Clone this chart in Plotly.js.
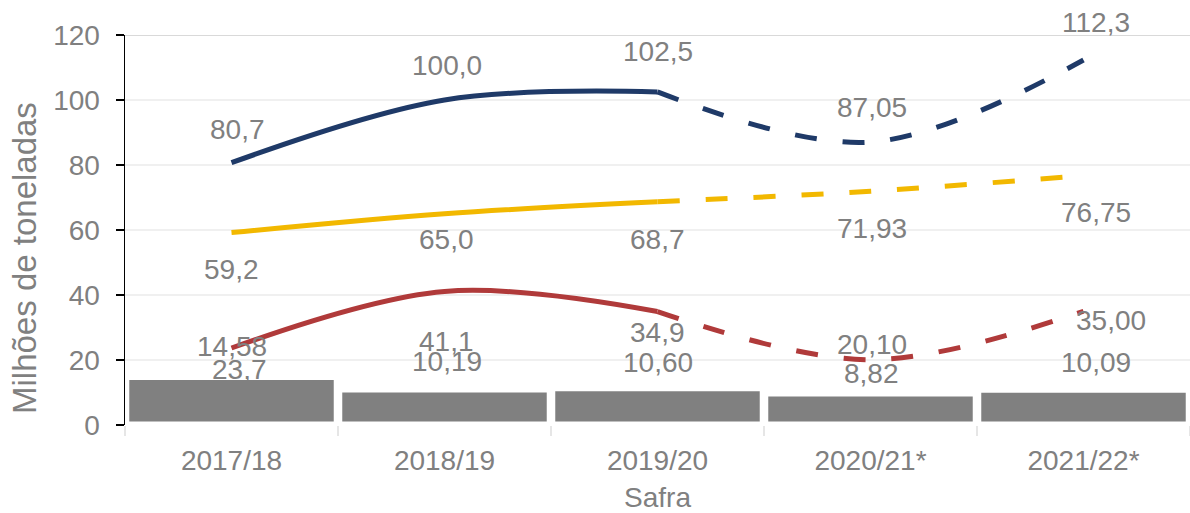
<!DOCTYPE html>
<html>
<head>
<meta charset="utf-8">
<script src="https://cdn.plot.ly/plotly-3.0.1.min.js"></script>
<style>html,body{margin:0;padding:0;background:#fff;}#chart{width:1190px;height:513px;}</style>
</head>
<body>
<div id="chart"></div>
<script>
// ---- Data ----
const safras = ["2017/18", "2018/19", "2019/20", "2020/21*", "2021/22*"];
const serieAzul = [80.7, 100.0, 102.5, 87.05, 112.3];
const serieAmarela = [59.2, 65.0, 68.7, 71.93, 76.75];
const serieVermelha = [23.7, 41.1, 34.9, 20.10, 35.00];
const barras = [14.58, 10.19, 10.60, 8.82, 10.09];
const rotAzul = ["80,7", "100,0", "102,5", "87,05", "112,3"];
const rotAmarela = ["59,2", "65,0", "68,7", "71,93", "76,75"];
const rotVermelha = ["23,7", "41,1", "34,9", "20,10", "35,00"];
const rotBarras = ["14,58", "10,19", "10,60", "8,82", "10,09"];
const tituloY = "Milhões de toneladas";
const tituloX = "Safra";

// ---- Styles ----
const cAzul = "#1f3a68", cAmarela = "#f2b800", cVermelha = "#b03a3a", cBarra = "#808080";
const txt = "#808080";
const FONT = "Liberation Sans, Arial, sans-serif";
const FS = 28;
const dashPat = "22px,26px";

function lineTraces(vals, color) {
  return [
    {x: safras.slice(0, 3), y: vals.slice(0, 3), type: "scatter", mode: "lines",
     line: {color: color, width: 5, shape: "spline", smoothing: 1}, hoverinfo: "skip"},
    {x: safras.slice(2), y: vals.slice(2), type: "scatter", mode: "lines",
     line: {color: color, width: 5, shape: "spline", smoothing: 1, dash: dashPat}, hoverinfo: "skip"}
  ];
}

const traces = [
  {x: safras, y: barras, type: "bar", yaxis: "y2", marker: {color: cBarra, line: {width: 0}}, hoverinfo: "skip"},
  ...lineTraces(serieAmarela, cAmarela),
  ...lineTraces(serieVermelha, cVermelha),
  ...lineTraces(serieAzul, cAzul)
];

// label offsets (pixels) : [xshift, yshift]
const offAzul = [[6,33],[2,35],[0,40],[1,35],[12,38]];
const offAmarela = [[0,-37],[2,-26],[0,-38],[1,-37],[12,-37]];
const offVermelha = [[8,-22],[2,-50],[0,-21],[1,15],[27,-9]];
const offBarras = [[0,31],[2,30],[0,28],[1,23],[12,30]];

const annotations = [];
function addLabels(vals, labels, offs) {
  vals.forEach((v, i) => {
    annotations.push({x: safras[i], y: v, xref: "x", yref: "y", text: labels[i], showarrow: false,
      xshift: offs[i][0], yshift: offs[i][1], font: {family: FONT, size: FS, color: txt}});
  });
}
addLabels(serieAzul, rotAzul, offAzul);
addLabels(serieAmarela, rotAmarela, offAmarela);
addLabels(serieVermelha, rotVermelha, offVermelha);
addLabels(barras, rotBarras, offBarras);

// y-axis title as rotated annotation (placed like the reference)
annotations.push({text: tituloY, xref: "paper", yref: "paper", x: 0, y: 0.5, xanchor: "center", yanchor: "middle",
  xshift: -101, yshift: -28, textangle: -90, showarrow: false, font: {family: FONT, size: 33, color: txt}});

const layout = {
  width: 1190, height: 513,
  margin: {l: 125, r: 0, t: 35, b: 88, pad: 0},
  paper_bgcolor: "#fff", plot_bgcolor: "#fff",
  showlegend: false,
  bargap: 0.04,
  font: {family: FONT, size: FS, color: txt},
  xaxis: {
    type: "category", range: [-0.5, 4.5], showgrid: false, zeroline: false, showline: false,
    ticks: "outside", tickson: "boundaries", ticklen: 10, tickcolor: "#e6e6e6", tickwidth: 2,
    tickfont: {family: FONT, size: FS, color: txt}, ticklabelstandoff: 16,
    title: {text: tituloX, font: {family: FONT, size: FS, color: txt}, standoff: 12}
  },
  yaxis: {
    range: [0, 120], tickvals: [0, 20, 40, 60, 80, 100, 120], showgrid: true, gridcolor: "#f0f0f0", gridwidth: 2,
    zeroline: false, showline: true, linecolor: "#000", linewidth: 1.5,
    ticks: "outside", ticklen: 8, tickcolor: "#000", tickwidth: 1.5,
    tickfont: {family: FONT, size: FS, color: txt}, ticklabelstandoff: 10
  },
  yaxis2: {overlaying: "y", range: [-1.2, 135.6], visible: false, showgrid: false, zeroline: false},
  shapes: [
    {type: "line", xref: "paper", yref: "y", x0: 0, x1: 1, y0: 120, y1: 120, line: {color: "#d9d9d9", width: 2}, layer: "below"}
  ],
  annotations: annotations
};

Plotly.newPlot("chart", traces, layout, {displayModeBar: false, staticPlot: true});
</script>
</body>
</html>
